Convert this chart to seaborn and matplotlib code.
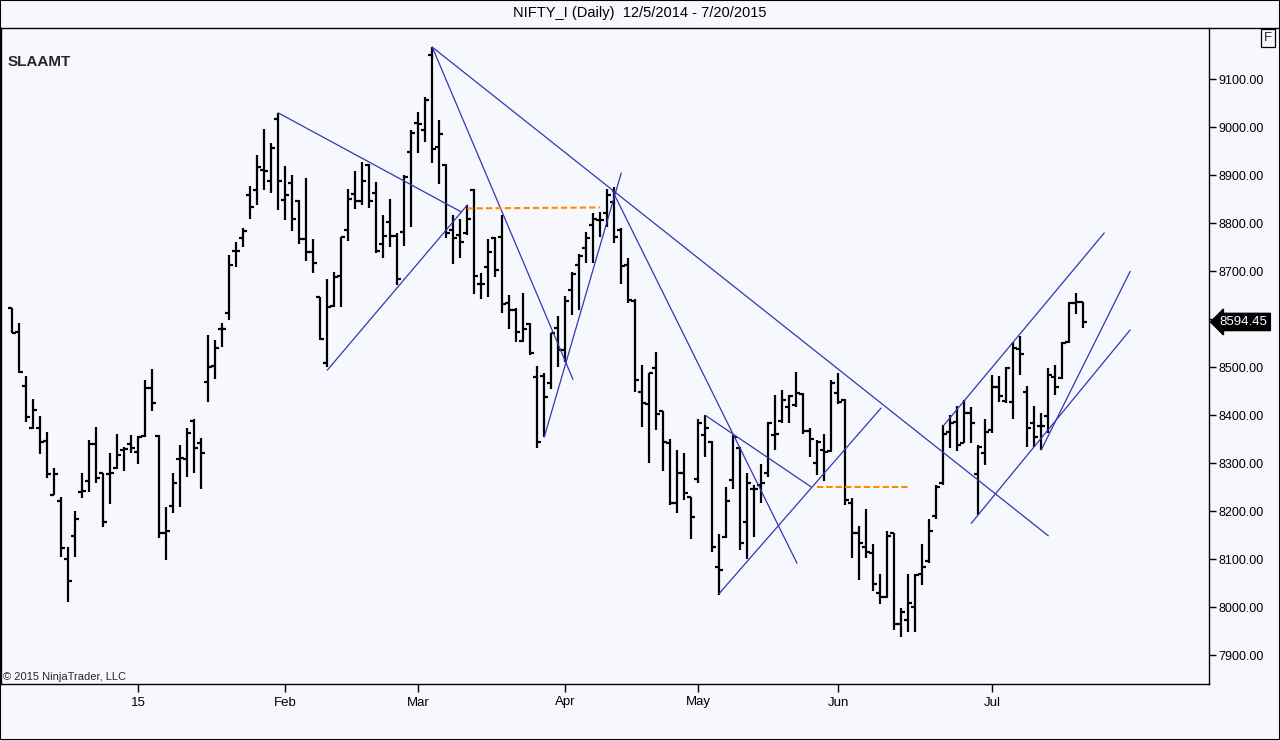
import numpy as np
import pandas as pd
import matplotlib
matplotlib.use("Agg")
import matplotlib.pyplot as plt
import seaborn as sns

# daily OHLC, NIFTY_I 12/5/2014 - 7/20/2015
opens = [8623, 8574, 8462, 8373, 8373, 8346, 8235, 8222, 8100, 8149,
         8241, 8264, 8340, 8280, 8277, 8290, 8328, 8340, 8323, 8357,
         8456, 8357, 8154, 8211, 8310, 8310, 8389, 8342, 8470, 8503,
         8579, 8613, 8743, 8769, 8859, 8869, 8911, 8888, 9017, 8849,
         8883, 8847, 8767, 8740, 8646, 8508, 8628, 8690, 8786, 8861,
         8847, 8921, 8864, 8757, 8803, 8774, 8782, 8949, 9008, 8994,
         9151, 8960, 8921, 8786, 8776, 8779, 8869, 8673, 8708, 8770,
         8772, 8633, 8619, 8555, 8590, 8480, 8482, 8467, 8581, 8536,
         8661, 8713, 8748, 8796, 8807, 8822, 8845, 8786, 8713, 8639,
         8449, 8424, 8499, 8408, 8343, 8217, 8279, 8229, 8267, 8359,
         8345, 8085, 8146, 8265, 8331, 8178, 8246, 8255, 8279, 8359,
         8389, 8418, 8421, 8444, 8368, 8300, 8328, 8326, 8447, 8432,
         8217, 8154, 8126, 8114, 8030, 8021, 8154, 7965, 7974, 8000,
         8069, 8097, 8190, 8258, 8366, 8387, 8342, 8405, 8278, 8321,
         8369, 8458, 8430, 8428, 8538, 8449, 8383, 8378, 8399, 8480,
         8477, 8553, 8635, 8637]
highs = [8623, 8592, 8482, 8433, 8399, 8366, 8290, 8230, 8126, 8201,
         8280, 8349, 8376, 8280, 8322, 8361, 8335, 8360, 8357, 8474,
         8496, 8359, 8208, 8279, 8338, 8373, 8392, 8352, 8567, 8557,
         8592, 8734, 8762, 8791, 8878, 8942, 8996, 8967, 9030, 8919,
         8901, 8849, 8895, 8767, 8646, 8685, 8699, 8772, 8871, 8908,
         8928, 8924, 8887, 8817, 8850, 8779, 8901, 8994, 9032, 9064,
         9167, 9015, 8924, 8817, 8810, 8838, 8871, 8696, 8767, 8771,
         8817, 8651, 8623, 8654, 8592, 8503, 8488, 8572, 8607, 8649,
         8699, 8736, 8782, 8821, 8824, 8871, 8875, 8790, 8727, 8642,
         8505, 8489, 8532, 8409, 8350, 8328, 8322, 8230, 8392, 8400,
         8347, 8153, 8251, 8359, 8333, 8280, 8255, 8299, 8387, 8442,
         8453, 8442, 8491, 8446, 8373, 8349, 8362, 8474, 8488, 8433,
         8227, 8169, 8204, 8132, 8069, 8158, 8155, 7998, 8069, 8069,
         8132, 8183, 8255, 8380, 8401, 8419, 8432, 8418, 8338, 8392,
         8484, 8482, 8500, 8553, 8565, 8461, 8419, 8404, 8498, 8505,
         8553, 8637, 8655, 8637]
lows = [8571, 8488, 8387, 8371, 8319, 8269, 8234, 8105, 8012, 8105,
        8227, 8241, 8258, 8168, 8215, 8288, 8283, 8321, 8298, 8355,
        8408, 8144, 8099, 8196, 8210, 8272, 8280, 8246, 8428, 8475,
        8543, 8599, 8708, 8750, 8810, 8838, 8869, 8863, 8828, 8807,
        8783, 8757, 8722, 8696, 8557, 8501, 8626, 8626, 8764, 8829,
        8838, 8831, 8738, 8727, 8750, 8671, 8753, 8792, 8946, 8970,
        8926, 8882, 8769, 8715, 8727, 8776, 8653, 8642, 8646, 8689,
        8614, 8579, 8553, 8553, 8526, 8331, 8355, 8454, 8501, 8512,
        8609, 8619, 8717, 8717, 8772, 8793, 8760, 8674, 8633, 8449,
        8376, 8301, 8369, 8283, 8213, 8196, 8224, 8142, 8260, 8313,
        8116, 8026, 8144, 8246, 8119, 8100, 8146, 8218, 8272, 8328,
        8383, 8383, 8418, 8362, 8313, 8276, 8264, 8324, 8424, 8213,
        8102, 8057, 8102, 8035, 8007, 8019, 7953, 7938, 7948, 7949,
        8046, 8092, 8183, 8255, 8331, 8326, 8342, 8342, 8192, 8296,
        8364, 8428, 8426, 8392, 8484, 8335, 8335, 8328, 8363, 8442,
        8475, 8551, 8611, 8581]
closes = [8572, 8491, 8396, 8411, 8345, 8277, 8277, 8123, 8055, 8183,
          8242, 8340, 8269, 8177, 8280, 8317, 8330, 8331, 8355, 8456,
          8426, 8154, 8158, 8258, 8312, 8364, 8331, 8321, 8501, 8540,
          8579, 8713, 8743, 8784, 8835, 8918, 8908, 8956, 8888, 8859,
          8808, 8767, 8740, 8718, 8558, 8626, 8689, 8771, 8850, 8847,
          8889, 8847, 8743, 8774, 8774, 8685, 8897, 8989, 9007, 9057,
          8954, 8986, 8780, 8769, 8762, 8808, 8690, 8673, 8741, 8703,
          8632, 8619, 8574, 8579, 8529, 8345, 8439, 8571, 8536, 8639,
          8694, 8732, 8769, 8810, 8807, 8859, 8772, 8711, 8640, 8474,
          8425, 8488, 8403, 8345, 8217, 8280, 8239, 8188, 8385, 8373,
          8126, 8078, 8222, 8354, 8135, 8258, 8246, 8260, 8383, 8361,
          8432, 8440, 8447, 8368, 8350, 8345, 8324, 8468, 8428, 8224,
          8154, 8135, 8116, 8049, 8022, 8149, 7965, 7991, 8010, 8067,
          8083, 8160, 8251, 8362, 8383, 8338, 8404, 8383, 8335, 8365,
          8459, 8440, 8498, 8540, 8528, 8373, 8355, 8378, 8484, 8460,
          8551, 8635, 8637, 8594.45]

last_price = 8594.45

# month marks (bar number of first session) and their labels
month_bars = [18, 39, 58, 79, 98, 118, 140]
month_labels = ["15", "Feb", "Mar", "Apr", "May", "Jun", "Jul"]
price_ticks = [7900, 8000, 8100, 8200, 8300, 8400, 8500, 8600, 8700, 8800, 8900, 9000, 9100]

# hand drawn trend lines: start bar, start price, end bar, end price
tl_bar0 = [38, 45, 60, 60, 76, 85.7, 99, 101, 137, 147, 133]
tl_px0 = [9030, 8494, 9167, 9167, 8355, 8869, 8400, 8029, 8175, 8328, 8378]
tl_bar1 = [64.1, 65, 80.1, 148, 87, 112.1, 114.1, 124.1, 159.7, 159.7, 156]
tl_px1 = [8824, 8838, 8475, 8149, 8905, 8092, 8251, 8415, 8578, 8700, 8780]

# orange dashed levels
lvl_bar0 = [65, 115]
lvl_bar1 = [84, 128]
lvl_px0 = [8831, 8251]
lvl_px1 = [8833, 8251]

bg = "#F6F8FE"
sns.set_style("white", rc={"axes.facecolor": bg, "figure.facecolor": bg})
plt.rcParams["font.family"] = ["Liberation Sans", "DejaVu Sans"]

fig = plt.figure(figsize=(12.8, 7.4), dpi=100)
W, H = 1280.0, 740.0
ax = fig.add_axes([1 / W, (H - 684) / H, 1208 / W, (684 - 28) / H])

idx = np.arange(len(opens))
ax.vlines(idx, lows, highs, colors="black", linewidth=1.6)
ax.hlines(opens, idx - 0.6, idx, colors="black", linewidth=1.6)
ax.hlines(closes, idx, idx + 0.6, colors="black", linewidth=1.6)

# trend lines via seaborn (long form, one unit per line)
rows = []
for k in range(len(tl_bar0)):
    rows.append({"line": k, "bar": tl_bar0[k], "price": tl_px0[k]})
    rows.append({"line": k, "bar": tl_bar1[k], "price": tl_px1[k]})
tl = pd.DataFrame(rows)
sns.lineplot(data=tl, x="bar", y="price", units="line", estimator=None,
             color="#3535B0", linewidth=0.9, sort=False, ax=ax)

rows = []
for k in range(len(lvl_bar0)):
    rows.append({"line": k, "bar": lvl_bar0[k], "price": lvl_px0[k]})
    rows.append({"line": k, "bar": lvl_bar1[k], "price": lvl_px1[k]})
lv = pd.DataFrame(rows)
sns.lineplot(data=lv, x="bar", y="price", units="line", estimator=None,
             color="#FF8C00", linewidth=1.5, linestyle=(0, (3, 1.5)), sort=False, ax=ax)

ax.set_xlim(-1.61, 170.96)
ax.set_ylim(9100 - (684 - 79.3) * 2.0833, 9100 + (79.3 - 28) * 2.0833)
ax.set_xlabel("")
ax.set_ylabel("")

# the 8600 label sits under the last-price tag, as in the original
ax.yaxis.tick_right()
ax.set_yticks(price_ticks)
ax.set_yticklabels(["" if abs(p - last_price) < 30 else "%.2f" % p for p in price_ticks])
ax.set_xticks(month_bars)
ax.set_xticklabels(month_labels)
ax.tick_params(axis="y", which="both", right=True, left=False, length=5, width=1,
               direction="out", pad=2, labelsize=9, colors="black")
ax.tick_params(axis="x", which="both", bottom=True, length=6, width=1,
               direction="out", pad=3, labelsize=9.5, colors="black")
for s in ["left", "bottom", "right"]:
    ax.spines[s].set_visible(True)
    ax.spines[s].set_color("black")
    ax.spines[s].set_linewidth(1)
ax.spines["top"].set_visible(False)
ax.grid(False)

# last price marker
ax.text(1.009, last_price, "%.2f" % last_price, transform=ax.get_yaxis_transform(),
        color="white", fontsize=9.5, va="center", ha="left",
        bbox=dict(boxstyle="larrow,pad=0.2", fc="black", ec="black"))

# titles and labels
fig.text(0.5, 1 - 13 / H, "NIFTY_I (Daily)  12/5/2014 - 7/20/2015", ha="center", va="center",
         fontsize=10.5, color="black")
fig.text(8 / W, 1 - 62 / H, "SLAAMT", ha="left", va="center", fontsize=11, fontweight="bold")
fig.text(3 / W, 1 - 677 / H, "\u00a9 2015 NinjaTrader, LLC", ha="left", va="center", fontsize=8)
fig.text(1268 / W, 1 - 38 / H, "F", ha="center", va="center", fontsize=9.5,
         bbox=dict(boxstyle="square,pad=0.2", fc="none", ec="black", lw=0.9))

# frame lines
fig.add_artist(plt.Line2D([0, 1], [1 - 27.5 / H, 1 - 27.5 / H], transform=fig.transFigure,
                          color="black", linewidth=1))
fig.add_artist(plt.Rectangle((0, 0), 1, 1, transform=fig.transFigure, fill=False,
                             edgecolor="black", linewidth=1.5))

fig.savefig("out.png", dpi=100, facecolor=bg)
